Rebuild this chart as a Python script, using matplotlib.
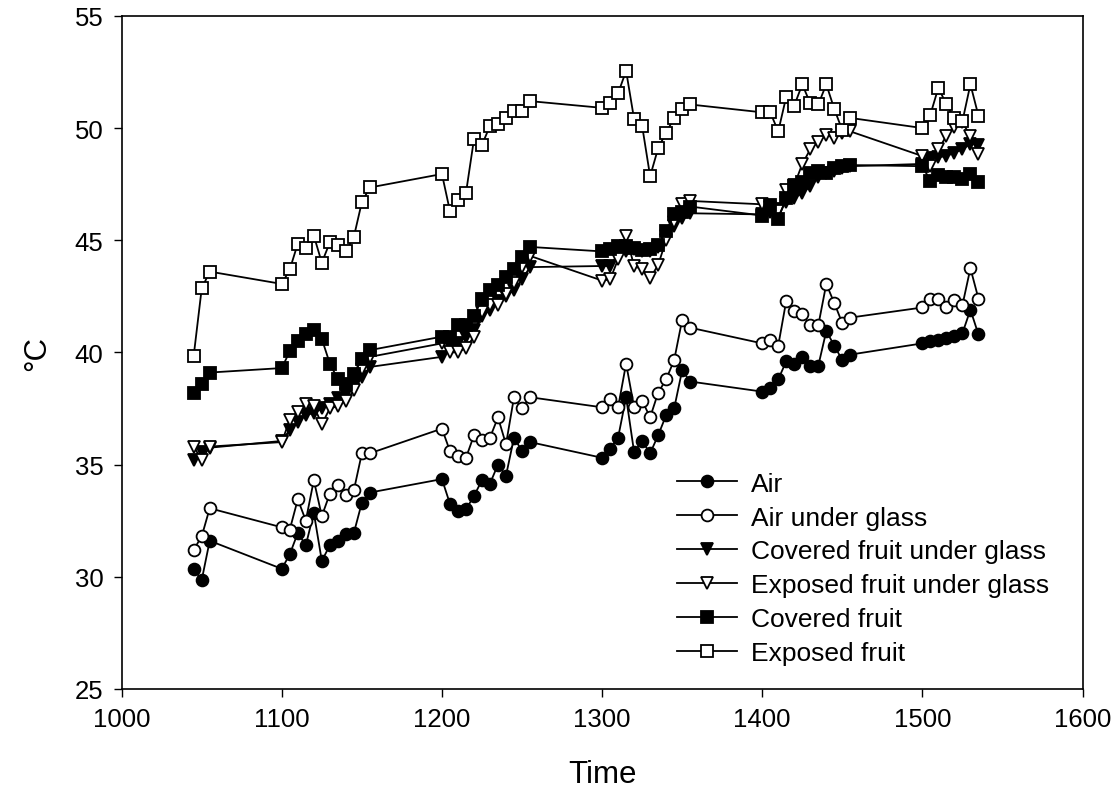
import matplotlib
matplotlib.use("Agg")
import matplotlib.pyplot as plt

plt.rcParams['font.family'] = ['Liberation Sans', 'DejaVu Sans']

# clock time (hhmm) of each reading
time = [1045, 1050, 1055,
        1100, 1105, 1110, 1115, 1120, 1125, 1130, 1135, 1140, 1145, 1150, 1155,
        1200, 1205, 1210, 1215, 1220, 1225, 1230, 1235, 1240, 1245, 1250, 1255,
        1300, 1305, 1310, 1315, 1320, 1325, 1330, 1335, 1340, 1345, 1350, 1355,
        1400, 1405, 1410, 1415, 1420, 1425, 1430, 1435, 1440, 1445, 1450, 1455,
        1500, 1505, 1510, 1515, 1520, 1525, 1530, 1535]

air = [30.35, 29.85, 31.6,
       30.35, 31.0, 31.95, 31.4, 32.85, 30.7, 31.4, 31.6, 31.9, 31.95, 33.3, 33.75,
       34.35, 33.25, 32.95, 33.0, 33.6, 34.3, 34.15, 35.0, 34.5, 36.2, 35.6, 36.0,
       35.3, 35.7, 36.2, 38.0, 35.55, 36.05, 35.5, 36.3, 37.2, 37.5, 39.2, 38.7,
       38.25, 38.4, 38.8, 39.6, 39.5, 39.8, 39.4, 39.4, 40.95, 40.3, 39.65, 39.9,
       40.4, 40.5, 40.55, 40.65, 40.75, 40.85, 41.9, 40.8]

air_glass = [31.2, 31.8, 33.05,
             32.2, 32.1, 33.45, 32.5, 34.3, 32.7, 33.7, 34.1, 33.65, 33.85, 35.5, 35.5,
             36.6, 35.6, 35.4, 35.3, 36.3, 36.1, 36.2, 37.1, 35.9, 38.0, 37.5, 38.0,
             37.55, 37.9, 37.55, 39.5, 37.55, 37.85, 37.1, 38.2, 38.8, 39.65, 41.45, 41.1,
             40.4, 40.55, 40.3, 42.3, 41.85, 41.7, 41.2, 41.2, 43.05, 42.2, 41.3, 41.55,
             42.0, 42.4, 42.4, 42.0, 42.35, 42.1, 43.75, 42.4]

covered_glass = [35.2, 35.55, 35.75,
                 36.05, 36.55, 36.9, 37.2, 37.3, 37.5, 37.7, 37.95, 38.15, 38.5, 38.9, 39.35,
                 39.8, 40.3, 40.4, 40.7, 41.0, 41.6, 41.9, 42.3, 42.5, 42.8, 43.25, 43.8,
                 43.85, 43.85, 44.4, 44.5, 44.6, 44.5, 44.5, 44.7, 45.2, 45.65, 46.0, 46.2,
                 46.15, 46.25, 46.4, 46.7, 46.9, 47.1, 47.4, 47.8, 48.0, 48.1, 48.2, 48.3,
                 48.4, 48.65, 48.7, 48.75, 48.9, 49.05, 49.3, 49.25]

exposed_glass = [35.8, 35.2, 35.8,
                 36.0, 37.0, 37.35, 37.7, 37.6, 36.8, 37.5, 37.6, 37.85, 38.3, 39.25, 39.8,
                 40.4, 40.0, 40.0, 40.2, 40.7, 41.8, 42.1, 42.1, 42.6, 43.1, 43.8, 44.3,
                 43.2, 43.25, 44.15, 45.2, 43.85, 43.7, 43.3, 43.9, 45.0, 45.8, 46.6, 46.75,
                 46.6, 46.5, 46.3, 47.25, 47.45, 48.4, 49.05, 49.4, 49.7, 49.55, 49.8, 49.85,
                 48.75, 48.3, 49.05, 49.65, 50.05, 50.25, 49.65, 48.85]

covered = [38.2, 38.6, 39.1,
           39.3, 40.05, 40.5, 40.8, 41.0, 40.6, 39.5, 38.8, 38.6, 39.05, 39.7, 40.1,
           40.7, 40.7, 41.2, 41.2, 41.6, 42.4, 42.8, 43.0, 43.35, 43.7, 44.25, 44.7,
           44.5, 44.6, 44.75, 44.75, 44.65, 44.55, 44.6, 44.8, 45.4, 46.15, 46.25, 46.5,
           46.1, 46.55, 45.95, 46.9, 47.4, 47.6, 48.0, 48.1, 48.0, 48.2, 48.3, 48.35,
           48.3, 47.65, 47.9, 47.8, 47.8, 47.75, 47.95, 47.6]

exposed = [39.85, 42.85, 43.6,
           43.05, 43.7, 44.85, 44.65, 45.2, 44.0, 44.9, 44.8, 44.5, 45.15, 46.7, 47.35,
           47.95, 46.3, 46.8, 47.1, 49.5, 49.25, 50.1, 50.2, 50.45, 50.75, 50.75, 51.2,
           50.9, 51.1, 51.55, 52.55, 50.4, 50.1, 47.85, 49.1, 49.8, 50.45, 50.85, 51.05,
           50.7, 50.7, 49.85, 51.4, 51.0, 51.95, 51.1, 51.05, 51.95, 50.85, 49.9, 50.45,
           50.0, 50.6, 51.8, 51.05, 50.45, 50.3, 51.95, 50.55]

fig = plt.figure(figsize=(11.16, 8.04), dpi=100)
ax = fig.add_axes([0.109, 0.142, 0.861, 0.837])

ms = 8.5
lw = 1.3
ax.plot(time, air, "k-o", mfc="black", mec="black", ms=ms, lw=lw, mew=1.3, label="Air")
ax.plot(time, air_glass, "k-o", mfc="white", mec="black", ms=ms, lw=lw, mew=1.3, label="Air under glass")
ax.plot(time, covered_glass, "k-v", mfc="black", mec="black", ms=ms + 0.5, lw=lw, mew=1.3,
        label="Covered fruit under glass")
ax.plot(time, exposed_glass, "k-v", mfc="white", mec="black", ms=ms + 0.5, lw=lw, mew=1.3,
        label="Exposed fruit under glass")
ax.plot(time, covered, "k-s", mfc="black", mec="black", ms=ms - 0.5, lw=lw, mew=1.3, label="Covered fruit")
ax.plot(time, exposed, "k-s", mfc="white", mec="black", ms=ms - 0.5, lw=lw, mew=1.3, label="Exposed fruit")

ax.set_xlim(1000, 1600)
ax.set_ylim(25, 55)
ax.set_xticks([1000, 1100, 1200, 1300, 1400, 1500, 1600])
ax.set_yticks([25, 30, 35, 40, 45, 50, 55])
ax.tick_params(direction="out", length=6, width=1, labelsize=18.5, pad=7)
for s in ax.spines.values():
    s.set_linewidth(1.2)

ax.set_xlabel("Time", fontsize=22.5, labelpad=20)
ax.set_ylabel("°C", fontsize=22.5, labelpad=16)

ax.legend(loc="center left", bbox_to_anchor=(0.567, 0.179), frameon=False, fontsize=19,
          numpoints=1, handlelength=2.27, handletextpad=0.53, labelspacing=0.375,
          borderaxespad=0)

fig.savefig("out.png", dpi=100)
